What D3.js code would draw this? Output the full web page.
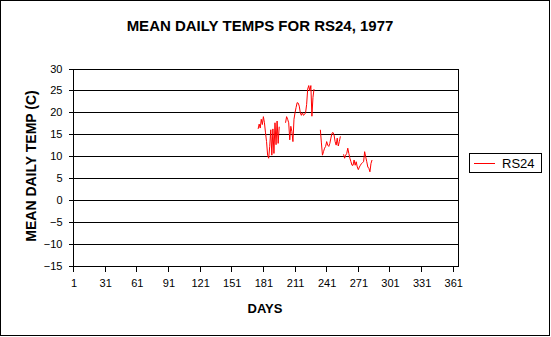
<!DOCTYPE html>
<html>
<head>
<meta charset="utf-8">
<script src="https://cdn.jsdelivr.net/npm/d3@7"></script>
<style>
  html, body { margin: 0; padding: 0; background: #fff; }
  svg { display: block; font-family: Arial, "Liberation Sans", sans-serif; }
</style>
</head>
<body>
<svg id="chart" width="551" height="337"></svg>
<script>
// Mean daily temperature, station RS24, 1977 (day of year -> deg C).
// Missing days break the line.
const seriesName = "RS24";
const segment1Start = 176;
const segment1 = [16.2, 17.3, 16.4, 18.4, 17.2, 19.0, 17.6, 15.3, 13.3, 10.2,
                  9.5, 12.2, 16.0, 10.2, 16.2, 10.6, 17.6, 12.6, 18.0, 12.9, 16.7];
const segment2Start = 202;
const segment2 = [17.6, 19.0, 18.4, 17.6, 13.7, 16.8, 15.6, 13.3, 18.4, 19.9,
                  21.1, 22.2, 22.1, 21.4, 19.9, 19.3, 19.9, 19.3, 19.5, 19.9,
                  21.8, 25.3, 26.1, 24.9, 26.1, 19.1, 23.4, 25.3];
const segment3Start = 235;
const segment3 = [16.0, 13.0, 10.2, 11.0, 11.8, 12.2, 13.3, 12.5, 12.2, 12.9,
                  14.1, 15.2, 15.4, 14.8, 13.3, 12.5, 14.1, 12.3, 13.3, 14.5];
const segment4Start = 257;
const segment4 = [10.4, 9.5, 10.2, 10.6, 11.8, 10.6, 9.5, 8.7, 7.9, 7.9,
                  9.1, 7.9, 8.7, 7.5, 6.9, 7.5, 7.9, 8.3, 8.5, 8.7,
                  11.0, 9.8, 8.7, 7.5, 7.2, 6.4, 8.3, 9.1];

const dayCount = 365;
const dayTickLabels = [1, 31, 61, 91, 121, 151, 181, 211, 241, 271, 301, 331, 361];
const tempTicks = [-15, -10, -5, 0, 5, 10, 15, 20, 25, 30];

// Build one value per day of the year; null where there is no reading.
const daily = d3.range(1, dayCount + 1).map(d => ({ day: d, temp: null }));
[[segment1Start, segment1], [segment2Start, segment2],
 [segment3Start, segment3], [segment4Start, segment4]].forEach(([start, vals]) => {
  vals.forEach((v, i) => { daily[start - 1 + i].temp = v; });
});

const svg = d3.select("#chart");
const plot = { left: 73, right: 458, top: 68, bottom: 265 };

// Category axis: each day occupies one slot, centred on its number.
const x = d3.scaleLinear().domain([0.5, dayCount + 0.5]).range([plot.left, plot.right]);
const y = d3.scaleLinear().domain([-15, 30]).range([plot.bottom + 0.5, plot.top + 0.5]);

// Outer frame
svg.append("rect")
  .attr("x", 0.5).attr("y", 0.5).attr("width", 549).attr("height", 335)
  .attr("fill", "#fff").attr("stroke", "#000");

// Title
svg.append("text")
  .attr("x", 260).attr("y", 31)
  .attr("text-anchor", "middle")
  .attr("font-size", 15).attr("font-weight", "bold")
  .text("MEAN DAILY TEMPS FOR RS24, 1977");

// Horizontal gridlines
svg.append("g")
  .selectAll("line")
  .data(tempTicks)
  .join("line")
  .attr("x1", plot.left).attr("x2", plot.right)
  .attr("y1", d => Math.round(y(d)) + 0.5).attr("y2", d => Math.round(y(d)) + 0.5)
  .attr("stroke", "#000").attr("shape-rendering", "crispEdges");

// Plot area frame
svg.append("rect")
  .attr("x", plot.left + 0.5).attr("y", Math.round(y(30)) + 0.5)
  .attr("width", plot.right - plot.left).attr("height", Math.round(y(-15)) - Math.round(y(30)))
  .attr("fill", "none").attr("stroke", "#000").attr("shape-rendering", "crispEdges");

// Y axis
const yAxis = svg.append("g")
  .attr("transform", `translate(${plot.left + 0.5},0)`)
  .call(d3.axisLeft(y).tickValues(tempTicks).tickSize(5).tickPadding(6)
        .tickFormat(d3.format("d")));
yAxis.select(".domain").remove();
yAxis.selectAll(".tick line").attr("stroke", "#000").attr("shape-rendering", "crispEdges");
yAxis.selectAll("text").attr("font-size", 11).attr("font-family", "Arial, 'Liberation Sans', sans-serif").attr("fill", "#000");

// X axis: tick marks fall between day slots every 30 days
const bottomY = Math.round(y(-15)) + 0.5;
const xTicks = svg.append("g")
  .attr("transform", `translate(0,${bottomY})`)
  .call(d3.axisBottom(x).tickValues(dayTickLabels.map(d => d - 0.5)).tickSize(5).tickFormat(""));
xTicks.select(".domain").remove();
xTicks.selectAll(".tick line").attr("stroke", "#000").attr("shape-rendering", "crispEdges");

// X axis labels centred on their day slots
const xLabels = svg.append("g")
  .attr("transform", `translate(0,${bottomY})`)
  .call(d3.axisBottom(x).tickValues(dayTickLabels).tickSize(0).tickPadding(13)
        .tickFormat(d3.format("d")));
xLabels.select(".domain").remove();
xLabels.selectAll("text").attr("font-size", 11).attr("font-family", "Arial, 'Liberation Sans', sans-serif").attr("fill", "#000");

// Axis titles
svg.append("text")
  .attr("x", 265).attr("y", 313)
  .attr("text-anchor", "middle")
  .attr("font-size", 13).attr("font-weight", "bold")
  .text("DAYS");

svg.append("text")
  .attr("transform", "translate(36,166) rotate(-90)")
  .attr("text-anchor", "middle")
  .attr("font-size", 14).attr("font-weight", "bold")
  .text("MEAN DAILY TEMP (C)");

// Series line
const line = d3.line()
  .defined(d => d.temp !== null)
  .x(d => x(d.day))
  .y(d => y(d.temp));

svg.append("path")
  .datum(daily)
  .attr("d", line)
  .attr("fill", "none")
  .attr("stroke", "#ff0000")
  .attr("stroke-width", 1);

// Legend
const legend = svg.append("g");
legend.append("rect")
  .attr("x", 469.5).attr("y", 153.5).attr("width", 72).attr("height", 19)
  .attr("fill", "#fff").attr("stroke", "#000").attr("shape-rendering", "crispEdges");
legend.append("line")
  .attr("x1", 474).attr("x2", 495).attr("y1", 163.5).attr("y2", 163.5)
  .attr("stroke", "#ff0000");
legend.append("text")
  .attr("x", 502).attr("y", 168)
  .attr("font-size", 13)
  .text(seriesName);
</script>
</body>
</html>
